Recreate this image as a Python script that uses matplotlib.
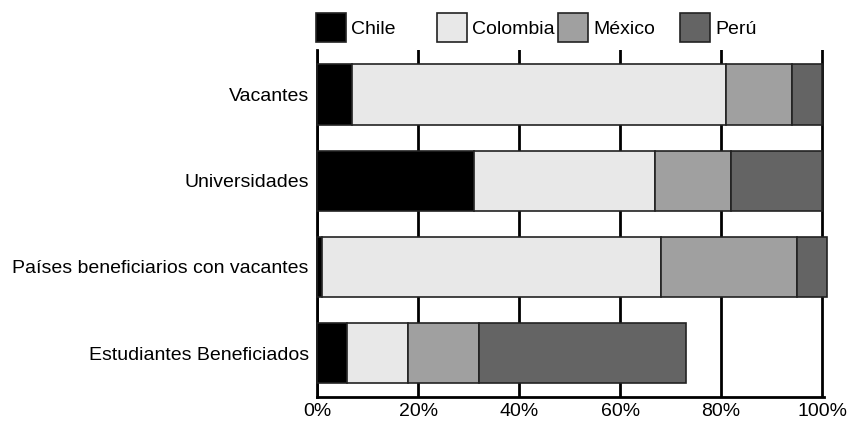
import matplotlib
matplotlib.use("Agg")
import matplotlib.pyplot as plt
from matplotlib.patches import Patch

categories = ["Vacantes", "Universidades", "Países beneficiarios con vacantes", "Estudiantes Beneficiados"]
series_names = ["Chile", "Colombia", "México", "Perú"]
chile = [7, 31, 1, 6]
colombia = [74, 36, 67, 12]
mexico = [13, 15, 27, 14]
peru = [6, 18, 6, 41]
x_ticks = [0, 20, 40, 60, 80, 100]
x_tick_labels = ["0%", "20%", "40%", "60%", "80%", "100%"]

colors = ["#000000", "#e8e8e8", "#a0a0a0", "#646464"]

plt.rcParams["font.family"] = ["Liberation Sans", "DejaVu Sans"]

fig = plt.figure(figsize=(8.5, 4.22), dpi=100)
ax = fig.add_axes([0.373, 0.059, 0.596, 0.823])

series = [chile, colombia, mexico, peru]
left = [0] * len(categories)
ypos = list(range(len(categories)))
handles = []
for name, vals, c in zip(series_names, series, colors):
    bars = ax.barh(ypos, vals, left=left, height=0.7, color=c, edgecolor="#222222",
                   linewidth=1.2, zorder=3)
    for b in bars:
        b.set_clip_on(False)
    left = [l + v for l, v in zip(left, vals)]
    handles.append(Patch(facecolor=c, edgecolor="#222222", linewidth=1.2))

ax.set_ylim(3.51, -0.52)
ax.set_xlim(0, 100.3)
ax.set_yticks(ypos)
ax.set_yticklabels(categories, fontsize=14)
ax.set_xticks(x_ticks)
ax.set_xticklabels(x_tick_labels, fontsize=14)
ax.tick_params(axis="y", length=0, pad=6)
ax.tick_params(axis="x", length=0, pad=4)
ax.xaxis.grid(True, color="black", linewidth=2, zorder=0)
ax.set_axisbelow(True)
for s in ["top", "right"]:
    ax.spines[s].set_visible(False)
for s in ["left", "bottom"]:
    ax.spines[s].set_linewidth(2)
    ax.spines[s].set_color("black")

lx = [316, 437, 558, 680]
for h, name, x in zip(handles, series_names, lx):
    fig.legend([h], [name], loc="upper left", bbox_to_anchor=(x / 850, 1 - 13 / 422),
               frameon=False, fontsize=14, handlelength=1.55, handleheight=1.95,
               handletextpad=0.25, borderpad=0, borderaxespad=0)

fig.savefig("out.png", dpi=100)
